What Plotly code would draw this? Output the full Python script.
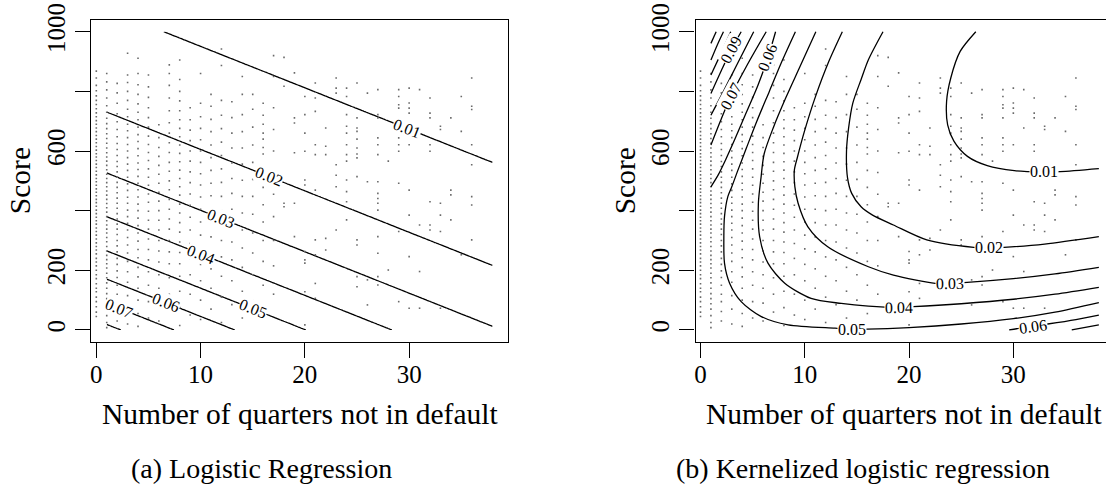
import numpy as np
import plotly.graph_objects as go

# ---------------- data ----------------
# scores observed for each number of quarters not in default
score_q0 = [45, 60, 78, 95, 110, 128, 140, 155, 172, 185, 200, 215, 228, 240, 255, 268, 280, 292, 305, 318,
            330, 342, 355, 366, 378, 390, 402, 415, 427, 438, 450, 462, 473, 485, 497, 508, 520, 532, 545, 556,
            568, 580, 591, 603, 615, 628, 640, 652, 665, 677, 690, 702, 715, 728, 742, 756, 770, 785, 802, 820, 845, 868]
score_q1 = [8, 25, 48, 70, 88, 105, 122, 140, 158, 175, 190, 208, 222, 236, 250, 265, 280, 296, 310, 325, 338,
            352, 366, 380, 395, 410, 424, 438, 452, 466, 480, 494, 508, 522, 537, 552, 566, 580, 594, 610, 626,
            642, 658, 675, 692, 710, 730, 752, 778, 805, 832, 860]
score_q2 = [30, 62, 95, 120, 150, 176, 198, 220, 240, 262, 282, 300, 320, 338, 355, 372, 390, 408, 425, 442,
            460, 478, 495, 512, 530, 548, 565, 585, 605, 625, 648, 672, 698, 725, 760, 795, 827]
score_q3 = [20, 70, 115, 160, 195, 230, 258, 285, 310, 335, 358, 380, 402, 425, 445, 468, 490, 512, 535, 556,
            578, 600, 622, 645, 668, 690, 715, 740, 770, 800, 830, 855, 928]
score_q4 = [12, 55, 100, 140, 178, 210, 242, 270, 298, 325, 350, 375, 400, 422, 446, 470, 492, 515, 538, 560,
            584, 608, 632, 655, 680, 705, 730, 758, 790, 822, 860, 911]
score_q5 = [40, 95, 150, 195, 235, 270, 305, 338, 368, 398, 428, 456, 485, 512, 540, 568, 595, 622, 650, 680,
            712, 745, 780, 815, 855]
score_q6 = [30, 90, 140, 185, 228, 265, 300, 335, 368, 400, 432, 462, 492, 522, 552, 582, 612, 645, 688]
score_q7 = [60, 120, 175, 222, 262, 300, 338, 372, 405, 438, 470, 500, 532, 562, 595, 628, 660, 695, 735, 778,
            820, 860, 889]
score_q8 = [15, 75, 130, 180, 222, 260, 295, 328, 360, 392, 422, 452, 480, 508, 536, 564, 592, 620, 648, 676,
            705, 735, 768, 800, 840, 905]
score_q9 = [50, 120, 185, 240, 290, 335, 378, 418, 456, 494, 530, 566, 600, 635, 670, 705, 745]
score_q10 = [35, 100, 165, 220, 272, 318, 362, 405, 446, 486, 524, 562, 600, 638, 676, 715, 760, 860]
score_q11 = [70, 140, 205, 262, 312, 360, 405, 450, 492, 535, 578, 620, 665, 706, 750, 790]
score_q12 = [25, 110, 180, 245, 300, 352, 400, 448, 495, 540, 585, 630, 675, 720, 770, 887, 942]
score_q13 = [85, 165, 235, 295, 352, 405, 458, 508, 560, 610, 660, 712, 765]
score_q14 = [40, 130, 210, 275, 335, 392, 448, 502, 556, 610, 665, 722, 790, 850]
score_q15 = [100, 185, 258, 325, 388, 448, 505, 562, 620, 680, 740, 790]
score_q16 = [55, 150, 230, 300, 362, 420, 478, 535, 590, 612, 640, 660, 690, 720, 760]
score_q17 = [120, 215, 300, 380, 455, 528, 600, 672, 745, 850, 920]
score_q18 = [413, 425, 817, 914]
score_q19 = [313, 425, 594, 694, 711, 862]
score_q20 = [17, 128, 224, 235, 263, 486, 503, 599, 660, 722, 783]
score_q21 = [106, 156, 252, 302, 469, 588, 621, 733, 778, 828]
score_q22 = [268, 307, 588, 616, 677]
score_q23 = [335, 480, 519, 554, 794, 811, 845]
score_q24 = [369, 430, 464, 503, 566, 588, 621, 660, 683, 722, 783, 811]
score_q25 = [145, 179, 285, 302, 514, 577, 590, 610, 640, 666, 677, 711, 828]
score_q26 = [84, 168, 497, 794]
score_q27 = [151, 179, 257, 313, 402, 425, 441, 458, 497, 588, 621, 644, 711, 722, 806]
score_q28 = [201, 566]
score_q29 = [95, 330, 492, 599, 621, 644, 711, 744, 755, 783, 806]
score_q30 = [73, 246, 385, 469, 621, 727, 744, 761, 811]
score_q31 = [73, 196, 352, 677, 806]
score_q32 = [335, 352, 430, 599, 621, 711, 727, 778]
score_q33 = [73, 330, 385, 425, 672, 683]
score_q34 = [369, 453, 469, 711]
score_q35 = [252, 666, 783]
score_q36 = [302, 419, 447, 554, 621, 739, 750, 845]

# (a) logistic regression fit: logit p = intercept + b_q * quarters + b_s * score
lr_intercept = -2.376
lr_coef_quarters = -0.0283
lr_coef_score = -0.002036
lr_levels = [0.01, 0.02, 0.03, 0.04, 0.05, 0.06, 0.07, 0.08]
lr_label_levels = [0.01, 0.02, 0.03, 0.04, 0.05, 0.06, 0.07]
lr_label_quarters = [29.8, 16.6, 11.96, 10.04, 15.0, 6.68, 2.2]
grid_quarters = [1, 38]
grid_score = [0, 1000]

# (b) kernelized logistic regression: contour lines
k01_q = [26.4, 24.9, 24.0, 23.6, 23.7, 24.3, 25.6, 27.5, 30.1, 32.9, 34.5, 38.2]
k01_s = [1000, 934, 845, 767, 688, 633, 582, 551, 534, 530, 531, 541]
k02_q = [17.5, 16.1, 15.4, 14.6, 14.2, 14.0, 14.1, 14.5, 15.4, 16.5, 18.5, 21.7, 26.2, 27.7, 29.1, 33.0, 38.2]
k02_s = [1000, 906, 840, 760, 677, 600, 510, 458, 413, 385, 352, 302, 277, 275, 277, 288, 313]
k03_q = [13.6, 12.3, 11.0, 10.0, 9.3, 9.0, 9.05, 9.36, 10.3, 12.2, 16.1, 18.5, 22.5, 23.9, 25.25, 30.0, 34.0, 38.2]
k03_s = [1000, 900, 780, 670, 580, 536, 480, 425, 346, 279, 212, 184, 156, 157, 159, 172, 188, 210]
k04_q = [11.06, 9.5, 8.2, 7.0, 6.1, 5.8, 5.55, 5.67, 6.47, 8.08, 10.6, 13.5, 16.1, 19.0, 20.4, 25.0, 30.0, 34.0, 38.2]
k04_s = [1000, 880, 780, 680, 590, 510, 425, 313, 224, 157, 106, 89, 80, 76, 78, 88, 103, 120, 143]
k05_q = [9.1, 7.8, 6.6, 5.4, 4.4, 3.59, 3.0, 2.62, 2.3, 2.24, 2.3, 2.79, 3.9, 5.83, 8.4, 12.9, 14.5, 16.0, 20.0, 25.0, 30.0, 34.0, 38.2]
k05_s = [1000, 900, 800, 700, 610, 536, 480, 447, 380, 313, 224, 157, 95, 45, 17, 6, 3, 3, 8, 20, 38, 60, 92]
k06_q = [7.2, 6.45, 5.5, 4.4, 3.3, 2.4, 1.7, 1.0]
k06_s = [1000, 912, 820, 730, 640, 570, 520, 480]
k06b_q = [29.6, 31.9, 33.3, 36.0, 38.2]
k06b_s = [0, 13, 20, 35, 50]
k07_q = [6.3, 4.5, 2.9, 1.9, 1.0]
k07_s = [1000, 890, 783, 700, 620]
k07b_q = [35.6, 38.2]
k07b_s = [0, 17]
k08_q = [5.1, 3.5, 2.2, 1.0]
k08_s = [1000, 890, 800, 720]
k09_q = [3.9, 2.95, 2.0, 1.0]
k09_s = [1000, 940, 870, 793]
k10_q = [2.9, 2.0, 1.0]
k10_s = [1000, 930, 855]
k11_q = [2.2, 1.6, 1.0]
k11_s = [1000, 955, 905]
k12_q = [1.5, 1.0]
k12_s = [1000, 961]

k_label_text = ["0.01", "0.02", "0.03", "0.04", "0.05", "0.06", "0.06", "0.07", "0.09"]
k_label_q = [32.9, 27.7, 23.9, 19.0, 14.5, 31.9, 6.45, 2.9, 2.95]
k_label_s = [530, 275, 157, 77, 3, 13, 912, 783, 940]

x_ticks = [0, 10, 20, 30]
y_ticks = [0, 200, 400, 600, 800, 1000]
y_tick_text = ["0", "200", "", "600", "", "1000"]

# ---------------- figure ----------------
W, H = 1106, 487
FONT = "Liberation Serif"
X_RANGE = [-0.48, 39.48]
Y_RANGE = [-40, 1040]
L_LEFT, L_RIGHT = 91.3, 508.0
R_LEFT = 695.5
PLOT_TOP, PLOT_BOT = 19.8, 341.9
PX_PER_Q = (L_RIGHT - L_LEFT) / (X_RANGE[1] - X_RANGE[0])
PX_PER_S = (PLOT_BOT - PLOT_TOP) / (Y_RANGE[1] - Y_RANGE[0])
R_XMAX = X_RANGE[0] + (W - R_LEFT) / PX_PER_Q

def px(x):
    return x / W

def py(y):
    return 1 - y / H

columns = [score_q0, score_q1, score_q2, score_q3, score_q4, score_q5, score_q6, score_q7, score_q8,
           score_q9, score_q10, score_q11, score_q12, score_q13, score_q14, score_q15, score_q16,
           score_q17, score_q18, score_q19, score_q20, score_q21, score_q22, score_q23, score_q24,
           score_q25, score_q26, score_q27, score_q28, score_q29, score_q30, score_q31, score_q32,
           score_q33, score_q34, score_q35, score_q36]
pts_q, pts_s = [], []
for q, col in enumerate(columns):
    pts_q += [q] * len(col)
    pts_s += col

fig = go.Figure()
LINE_W = 1.3

for xa, ya in (("x", "y"), ("x2", "y2")):
    fig.add_trace(go.Scatter(x=pts_q, y=pts_s, mode="markers", xaxis=xa, yaxis=ya,
                             marker=dict(size=1.6, color="#6a6a6a", symbol="square", line=dict(width=0)),
                             hoverinfo="skip", showlegend=False))

# (a) logistic regression surface
gq = np.linspace(grid_quarters[0], grid_quarters[1], 160)
gs = np.linspace(grid_score[0], grid_score[1], 201)
logit = lr_intercept + lr_coef_quarters * gq[None, :] + lr_coef_score * gs[:, None]
Z = 1.0 / (1.0 + np.exp(-logit))
fig.add_trace(go.Contour(x=gq, y=gs, z=Z, xaxis="x", yaxis="y",
                         contours=dict(start=lr_levels[0], end=lr_levels[-1] + 1e-6, size=0.01,
                                       coloring="lines", showlabels=False),
                         line=dict(color="black", width=LINE_W),
                         colorscale=[[0, "black"], [1, "black"]], showscale=False,
                         hoverinfo="skip"))

# (b) kernelized contour lines
for q, s in [(k01_q, k01_s), (k02_q, k02_s), (k03_q, k03_s), (k04_q, k04_s), (k05_q, k05_s),
             (k06_q, k06_s), (k06b_q, k06b_s), (k07_q, k07_s), (k07b_q, k07b_s), (k08_q, k08_s),
             (k09_q, k09_s), (k10_q, k10_s), (k11_q, k11_s), (k12_q, k12_s)]:
    fig.add_trace(go.Scatter(x=q, y=s, mode="lines", xaxis="x2", yaxis="y2",
                             line=dict(color="black", width=LINE_W, shape="spline", smoothing=0.8),
                             hoverinfo="skip", showlegend=False))

annotations = []
LABEL_FONT = dict(family=FONT, size=16, color="black")
# labels for (a): placed on their line, rotated along it
angle_a = np.degrees(np.arctan((lr_coef_quarters / lr_coef_score) * PX_PER_S / PX_PER_Q))
for lev, q in zip(lr_label_levels, lr_label_quarters):
    lg = np.log(lev / (1 - lev))
    s = (lg - lr_intercept - lr_coef_quarters * q) / lr_coef_score
    annotations.append(dict(x=q, y=s, xref="x", yref="y", text=f"{lev:.2f}", showarrow=False,
                            font=LABEL_FONT, bgcolor="white", borderpad=0, textangle=angle_a))
k_label_angle = [0, 0, -1, -1, 0, -8, -68, -62, -62]
for t, q, s, ang in zip(k_label_text, k_label_q, k_label_s, k_label_angle):
    annotations.append(dict(x=q, y=s, xref="x2", yref="y2", text=t, showarrow=False,
                            font=LABEL_FONT, bgcolor="white", borderpad=0, textangle=ang))

TITLE_FONT = dict(family=FONT, size=29.5, color="black")
CAP_FONT = dict(family=FONT, size=28, color="black")
for left, right, cap, cap_x in ((L_LEFT, L_RIGHT, "(a) Logistic Regression", 261),
                                (R_LEFT, R_LEFT + (L_RIGHT - L_LEFT), "(b) Kernelized logistic regression", 863)):
    annotations.append(dict(x=px((left + right) / 2), y=py(414), xref="paper", yref="paper",
                            text="Number of quarters not in default", showarrow=False,
                            font=TITLE_FONT, xanchor="center", yanchor="middle"))
    annotations.append(dict(x=px(left - 71), y=py((PLOT_TOP + PLOT_BOT) / 2), xref="paper", yref="paper",
                            text="Score", showarrow=False, textangle=-90,
                            font=TITLE_FONT, xanchor="center", yanchor="middle"))
    annotations.append(dict(x=px(cap_x), y=py(468), xref="paper", yref="paper",
                            text=cap, showarrow=False,
                            font=CAP_FONT, xanchor="center", yanchor="middle"))

axis_common = dict(showgrid=False, zeroline=False, showline=True, linecolor="black", linewidth=LINE_W,
                   ticks="outside", ticklen=15, tickwidth=LINE_W, tickcolor="black", automargin=False,
                   tickfont=dict(family=FONT, size=25, color="black"))
ydom = [py(PLOT_BOT), py(PLOT_TOP)]
fig.update_layout(
    width=W, height=H, margin=dict(l=0, r=0, t=0, b=0, pad=0, autoexpand=False),
    paper_bgcolor="white", plot_bgcolor="white", showlegend=False,
    xaxis=dict(domain=[px(L_LEFT), px(L_RIGHT)], range=X_RANGE, tickvals=x_ticks, mirror=True,
               anchor="y", ticklabelstandoff=-5, **axis_common),
    yaxis=dict(domain=ydom, range=Y_RANGE, tickvals=y_ticks, ticktext=y_tick_text, tickangle=-90,
               mirror=True, anchor="x", **axis_common),
    xaxis2=dict(domain=[px(R_LEFT), 1.0], range=[X_RANGE[0], R_XMAX], tickvals=x_ticks, mirror=True,
                anchor="y2", ticklabelstandoff=-5, **axis_common),
    yaxis2=dict(domain=ydom, range=Y_RANGE, tickvals=y_ticks, ticktext=y_tick_text, tickangle=-90,
                mirror=False, anchor="x2", **axis_common),
    annotations=annotations,
)

fig.write_html("out.html")
